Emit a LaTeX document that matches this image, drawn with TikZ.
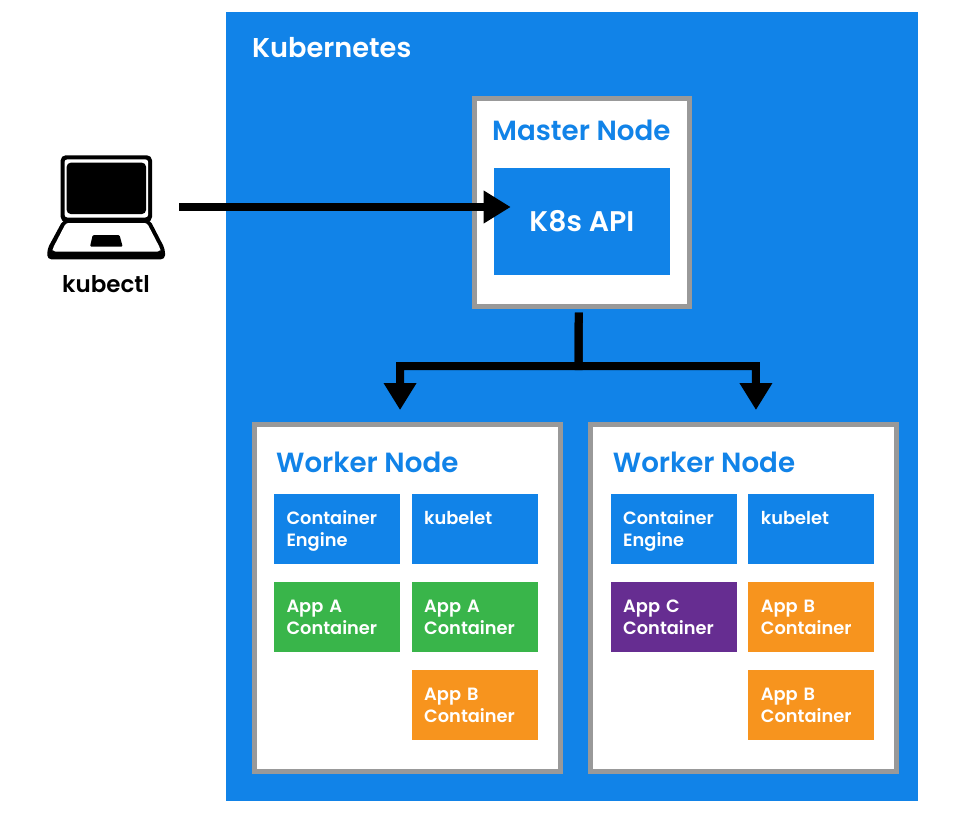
\documentclass[tikz,border=0pt]{standalone}
\usepackage{fontspec}
\setmainfont{Poppins}[BoldFont={Poppins SemiBold}]
\usetikzlibrary{arrows.meta}
\definecolor{k8blue}{RGB}{17,131,232}
\definecolor{k8gray}{RGB}{153,153,153}
\definecolor{k8green}{RGB}{57,181,74}
\definecolor{k8orange}{RGB}{247,148,30}
\definecolor{k8purple}{RGB}{102,45,145}
\tikzset{
  hostbox/.style={draw=k8gray,line width=5pt,fill=white,inner sep=0pt,outer sep=0pt},
  cbox/.style={fill=#1,text=white,anchor=north west,outer sep=0pt,inner xsep=12.5pt,inner ysep=0pt,
    text width=101pt,align=left,text height=30pt,text depth=40pt,minimum width=126pt,
    font=\bfseries\fontsize{17.8}{22}\selectfont},
  titletext/.style={text=k8blue,anchor=base west,inner sep=0pt,font=\bfseries\fontsize{27.7}{30}\selectfont},
  flow/.style={draw=black,line width=8pt,-{Triangle[length=27pt,width=31pt]}},
}
\begin{document}
\begin{tikzpicture}[x=1pt,y=-1pt]
\path[fill=white,use as bounding box] (0,0) rectangle (960,827);
% Kubernetes frame
\node[fill=k8blue,inner sep=0pt,outer sep=0pt,minimum width=692pt,minimum height=789pt] (k8s) at (572,406.5) {};
\node[text=white,anchor=base west,inner sep=0pt,font=\bfseries\fontsize{27.2}{30}\selectfont] (k8stitle) at (252,57) {Kubernetes};
% Master
\node[hostbox,minimum width=214.5pt,minimum height=207.5pt] (master) at (581.75,202.25) {};
\node[titletext] (mastertitle) at (492,140) {Master Node};
\node[fill=k8blue,text=white,inner sep=0pt,outer sep=0pt,minimum width=176.3pt,minimum height=107pt,font=\bfseries\fontsize{28.4}{30}\selectfont] (api) at (581.85,221.5) {K8s API};
% Worker 1
\node[hostbox,minimum width=306.3pt,minimum height=346.7pt] (wa) at (407.35,598.2) {};
\node[titletext] (watitle) at (276,472) {Worker Node};
\node[cbox=k8blue] (wa1) at (274,494) {Container\\Engine};
\node[cbox=k8blue] (wa2) at (411.7,494) {kubelet};
\node[cbox=k8green] (wa3) at (274,582) {App A\\Container};
\node[cbox=k8green] (wa4) at (411.7,582) {App A\\Container};
\node[cbox=k8orange] (wa5) at (411.7,670) {App B\\Container};
% Worker 2
\node[hostbox,minimum width=305.7pt,minimum height=346.7pt] (wb) at (743.65,598.2) {};
\node[titletext] (wbtitle) at (612.7,472) {Worker Node};
\node[cbox=k8blue] (wb1) at (610.7,494) {Container\\Engine};
\node[cbox=k8blue] (wb2) at (748.4,494) {kubelet};
\node[cbox=k8purple] (wb3) at (610.7,582) {App C\\Container};
\node[cbox=k8orange] (wb4) at (748.4,582) {App B\\Container};
\node[cbox=k8orange] (wb5) at (748.4,670) {App B\\Container};
% Laptop icon
\fill[black,rounded corners=5pt] (60.7,155.3) rectangle (152,222);
\fill[white,rounded corners=3pt] (64.5,159.3) rectangle (148.2,217.5);
\fill[black,rounded corners=4pt] (66.7,162.7) rectangle (146,214);
\fill[black,rounded corners=4pt] (63,220) -- (150,220) -- (165,249) -- (165,259.3) -- (47.3,259.3) -- (47.3,249) -- cycle;
\fill[white,rounded corners=2.5pt] (66,223) -- (147,223) -- (160.5,249) -- (160,251.5) -- (53,251.5) -- (52.5,249) -- cycle;
\fill[black,rounded corners=1.2pt] (92.7,235) -- (119.5,235) -- (122.7,246.7) -- (90,246.7) -- cycle;
\node[text=black,inner sep=0pt,font=\bfseries\fontsize{23}{24}\selectfont] (kubectl) at (106,284) {kubectl};
% Connectors
\coordinate (laptop) at (179,207);
\coordinate (bus) at (578.7,366);
\draw[flow] (laptop) -- ([xshift=17pt,yshift=14.5pt]api.west);
\draw[flow] ([xshift=-3pt,yshift=-6.5pt]master.south) -- (bus) -| ([xshift=-7.3pt,yshift=14.8pt]wa.north);
\draw[flow] ([xshift=-3pt,yshift=-6.5pt]master.south) -- (bus) -| ([xshift=12.3pt,yshift=14.8pt]wb.north);
\end{tikzpicture}
\end{document}
